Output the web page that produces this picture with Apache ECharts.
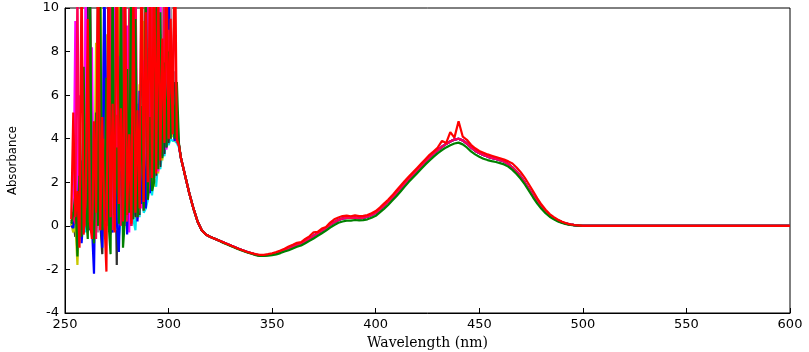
<!DOCTYPE html>
<html>
<head>
<meta charset="utf-8">
<script src="https://cdn.jsdelivr.net/npm/echarts@6/dist/echarts.min.js"></script>
<style>
html,body{margin:0;padding:0;background:#fff;}
#chart{width:809px;height:352px;}
</style>
</head>
<body>
<div id="chart"></div>
<script>
// 波长 x 轴: 噪声段 253-305 (1nm), 平滑段 306-500 (2nm), 然后平到 600
var wlNoise = [];
for (var w = 253; w <= 305; w++) { wlNoise.push(w); }
var wlTail = [];
for (var t = 306; t <= 500; t += 2) { wlTail.push(t); }
wlTail.push(600);

var xTicks = [250, 300, 350, 400, 450, 500, 550, 600];
var yTicks = [-4, -2, 0, 2, 4, 6, 8, 10];

// 噪声段 (每条 53 个点)
var noiseGray = [0.1, 0.0, 1.2, -0.2, 0.5, 2.0, 0.1, 11, -0.2, 0.3,
  4.5, 0.0, 1.8, -0.3, 5.2, 0.4, 12, 0.0, 4.6, 0.5,
  7.5, 0.0, 4.8, 0.3, 10.5, 0.2, 3.5, -0.2, 6.8, 0.4,
  13, 0.5, 3.4, 0.6, 6.6, 1.0, 4.4, 1.5, 12, 2.0,
  5.8, 2.6, 4.9, 3.0, 12, 3.5, 7.2, 3.8, 11, 4.1,
  7.1, 3.9, 3.7];
var noiseCyan = [0.0, -0.1, 0.2, 0.5, -0.2, 0.3, 0.6, -0.3, 0.8, 2.2,
  0.1, -0.6, 0.5, 0.0, 2.6, -0.5, 0.4, 1.5, 0.2, -0.1,
  0.6, 0.0, 1.8, -0.5, 0.4, 0.9, 0.0, 2.4, 0.1, 0.8,
  0.3, -0.2, 1.6, 0.4, 2.5, 0.6, 0.8, 1.2, 2.0, 1.4,
  2.2, 1.8, 3.0, 2.6, 3.4, 3.2, 4.2, 3.7, 4.0, 3.9,
  3.9, 3.8, 3.6];
var noiseBlack = [0.0, 0.2, -0.5, 0.8, 0.0, 3.0, -0.3, 0.5, 11, -0.2,
  0.3, 4.0, -0.1, 12, 0.2, -1.3, 4.8, 0.0, 10.5, -0.1,
  0.5, 5.0, -1.8, 13, 0.1, 0.6, 5.4, 0.2, 3.2, 0.0,
  4.1, 0.4, 5.6, 0.5, 12, 0.9, 4.6, 1.3, 11, 1.8,
  5.4, 2.3, 12, 2.7, 6.0, 3.3, 13, 3.8, 5.5, 4.1,
  6.6, 3.9, 3.7];
var noiseYellow = [0.1, -0.3, 0.2, -1.8, 1.0, -0.6, 0.4, 2.4, 0.0, 10,
  -0.2, 0.6, 8.4, 0.2, 13, -0.1, 0.4, 8.8, 0.0, 12,
  0.3, 8.0, -0.2, 12, 0.4, 3.9, 0.0, 7.4, 0.6, 5.2,
  0.8, 2.3, 0.5, 6.5, 1.0, 9.4, 1.2, 4.2, 1.6, 3.0,
  1.8, 7.8, 2.4, 4.5, 3.0, 8.6, 3.6, 5.1, 4.0, 4.3,
  3.9, 4.1, 3.7];
var noiseMagenta = [0.2, 0.3, 9.4, 0.0, 6.0, -0.4, 0.4, 11, -0.3, 0.9,
  8.2, -0.1, 0.6, 6.4, -0.2, 0.3, 10, 0.0, 5.4, -0.4,
  0.2, 12, -0.1, 7.8, 0.2, 4.6, 0.0, 9.2, -0.3, 5.0,
  0.4, 12, 0.3, 4.4, 0.8, 7.6, 1.0, 12, 1.6, 5.6,
  2.0, 9.0, 2.5, 11, 3.2, 6.8, 3.5, 12, 4.0, 6.6,
  3.9, 5.4, 3.7];
var noiseBlue = [0.0, -0.1, 0.8, 0.2, 2.6, -0.8, 0.5, 3.0, -0.2, 11,
  0.0, -2.2, 4.5, 0.3, 1.2, -1.0, 12, 0.2, 12, 0.0,
  -0.3, 5.3, 0.2, -1.2, 2.5, 0.1, 10, -0.4, 5.2, 0.3,
  0.5, 3.8, 0.2, 6.2, 1.0, 3.6, 0.8, 5.0, 1.5, 12,
  2.2, 4.5, 2.8, 6.0, 3.2, 5.3, 3.6, 11, 4.2, 4.8,
  3.9, 4.6, 3.7];
var noisePink = [0.2, 0.4, 0.1, 11, -0.2, 0.8, 5.0, 0.0, 0.6, 12,
  0.3, 2.0, -0.6, 11, 0.5, 0.2, 4.0, 0.9, 0.3, 12,
  -0.2, 1.1, 5.1, 0.4, 0.0, 13, 0.5, 0.2, 10, 0.0,
  0.8, 12, 0.4, 0.9, 5.0, 0.7, 13, 1.2, 2.4, 11,
  2.2, 10, 2.8, 8.8, 3.4, 12, 3.9, 9.0, 4.1, 7.4,
  10, 3.9, 3.7];
var noiseGreen = [0.1, 0.6, 1.4, -1.4, 2.3, -0.5, 7.3, 0.8, -0.6, 12,
  0.3, -0.8, 5.2, 0.0, 10.5, -0.2, 0.9, 6.8, 0.2, -1.3,
  12, 0.5, 3.6, 0.1, 11, -1.0, 0.4, 7.2, 0.6, 13,
  0.3, 9.5, 0.4, 1.2, 5.5, 0.7, 11, 1.2, 5.0, 1.6,
  2.0, 12, 2.6, 9.8, 3.1, 7.5, 3.6, 8.0, 4.0, 7.0,
  4.0, 6.6, 3.8];
var noiseRed = [0.3, 5.2, 0.4, 1.6, -1.0, 12, -0.4, 1.2, 9.5, 0.2,
  -0.6, 4.8, 0.6, 13, -0.2, 5.0, 0.3, -2.1, 11, 0.4,
  5.6, -0.3, 14, 1.0, 5.4, 0.2, 12, 0.5, 4.2, 0.1,
  11, 0.6, 5.3, 0.8, 14, 1.1, 9.8, 2.0, 12, 2.2,
  13, 2.4, 11, 3.0, 8.6, 3.8, 12, 4.0, 9.5, 4.2,
  14, 4.0, 3.7];

// 平滑段 (306-500 每 2nm, 最后一个是 600nm)
var tailBase = [3.1, 2.3, 1.5, 0.8, 0.2, -0.2, -0.4, -0.5, -0.58, -0.66,
  -0.74, -0.82, -0.9, -0.98, -1.06, -1.13, -1.2, -1.26, -1.32, -1.36,
  -1.35, -1.33, -1.3, -1.26, -1.2, -1.13, -1.05, -0.97, -0.88, -0.8,
  -0.7, -0.58, -0.46, -0.34, -0.22, -0.1, 0.05, 0.17, 0.27, 0.34,
  0.37, 0.36, 0.38, 0.35, 0.37, 0.42, 0.5, 0.6, 0.75, 0.92,
  1.1, 1.3, 1.5, 1.72, 1.94, 2.15, 2.35, 2.55, 2.75, 2.95,
  3.14, 3.32, 3.48, 3.63, 3.76, 3.87, 3.96, 4.0, 3.92, 3.78,
  3.6, 3.45, 3.34, 3.25, 3.18, 3.12, 3.07, 3.02, 2.95, 2.84,
  2.68, 2.48, 2.26, 1.98, 1.68, 1.38, 1.1, 0.85, 0.64, 0.47,
  0.34, 0.24, 0.16, 0.1, 0.06, 0.03, 0.01, 0, 0];
var tailGreen = [3.1, 2.3, 1.5, 0.8, 0.2, -0.2, -0.4, -0.5, -0.58, -0.66,
  -0.76, -0.84, -0.92, -1.0, -1.08, -1.15, -1.22, -1.28, -1.34, -1.38,
  -1.38, -1.37, -1.34, -1.31, -1.25, -1.18, -1.12, -1.04, -0.96, -0.9,
  -0.8, -0.69, -0.58, -0.46, -0.34, -0.22, -0.08, 0.04, 0.14, 0.2,
  0.24, 0.24, 0.27, 0.25, 0.26, 0.3, 0.37, 0.46, 0.62, 0.78,
  0.96, 1.16, 1.36, 1.58, 1.8, 2.02, 2.22, 2.42, 2.62, 2.82,
  3.0, 3.18, 3.34, 3.48, 3.6, 3.7, 3.78, 3.82, 3.74, 3.6,
  3.42, 3.28, 3.17, 3.08, 3.02, 2.97, 2.93, 2.88, 2.82, 2.72,
  2.57, 2.38, 2.16, 1.9, 1.6, 1.3, 1.02, 0.78, 0.58, 0.42,
  0.3, 0.2, 0.13, 0.08, 0.04, 0.02, 0.01, 0, 0];
var tailRed = [3.1, 2.3, 1.5, 0.8, 0.2, -0.2, -0.4, -0.5, -0.58, -0.66,
  -0.74, -0.82, -0.9, -0.98, -1.06, -1.13, -1.2, -1.25, -1.3, -1.33,
  -1.33, -1.3, -1.26, -1.2, -1.13, -1.05, -0.95, -0.87, -0.78, -0.75,
  -0.6, -0.48, -0.3, -0.28, -0.12, -0.05, 0.15, 0.3, 0.38, 0.45,
  0.47, 0.44, 0.48, 0.45, 0.46, 0.5, 0.58, 0.68, 0.84, 1.02,
  1.2, 1.4, 1.62, 1.84, 2.06, 2.26, 2.46, 2.66, 2.86, 3.06,
  3.26, 3.42, 3.6, 3.9, 3.8, 4.3, 4.05, 4.8, 4.1, 3.95,
  3.72, 3.56, 3.44, 3.36, 3.28, 3.22, 3.16, 3.1, 3.04, 2.96,
  2.86, 2.68, 2.46, 2.2, 1.9, 1.58, 1.26, 0.98, 0.74, 0.54,
  0.4, 0.28, 0.19, 0.12, 0.07, 0.04, 0.02, 0, 0];

//拼 [x,y]
function pairs(noise, tail){
	var out = [];
	for (var i = 0; i < wlNoise.length; i++) out.push([wlNoise[i], noise[i]]);
	for (var j = 0; j < wlTail.length; j++) out.push([wlTail[j], tail[j]]);
	return out;
}

var lines = [
	{name:'gray', color:'#9a9a9a', noise:noiseGray, tail:tailBase},
	{name:'cyan', color:'#00e5ee', noise:noiseCyan, tail:tailBase},
	{name:'black', color:'#303030', noise:noiseBlack, tail:tailBase},
	{name:'yellow', color:'#c8c800', noise:noiseYellow, tail:tailBase},
	{name:'magenta', color:'#ff00ff', noise:noiseMagenta, tail:tailBase},
	{name:'blue', color:'#0000ff', noise:noiseBlue, tail:tailBase},
	{name:'pink', color:'#ff0055', noise:noisePink, tail:tailBase},
	{name:'green', color:'#008000', noise:noiseGreen, tail:tailGreen},
	{name:'red', color:'#ff0000', noise:noiseRed, tail:tailRed}
];

var chart = echarts.init(document.getElementById('chart'));
var option = {
	animation:false,
	backgroundColor:'#fff',
	grid:{
		left:65, right:19, top:8, bottom:39,
		outerBoundsMode:'none',
		containLabel:false,
		show:true, borderColor:'#000', borderWidth:1
	},
	xAxis:{
		type:'value',
		min:xTicks[0], max:xTicks[xTicks.length-1], interval:50,
		name:'Wavelength (nm)',
		nameLocation:'middle',
		nameGap:20,
		nameTextStyle:{color:'#000', fontFamily:'DejaVu Serif', fontSize:14},
		axisLine:{onZero:false, lineStyle:{color:'#000', width:1}},
		axisTick:{inside:true, length:5, lineStyle:{color:'#000'}},
		axisLabel:{color:'#000', fontFamily:'DejaVu Sans', fontSize:13, margin:5},
		splitLine:{show:false}
	},
	yAxis:{
		type:'value',
		min:yTicks[0], max:yTicks[yTicks.length-1], interval:2,
		name:'Absorbance',
		nameLocation:'middle',
		nameGap:46,
		nameTextStyle:{color:'#000', fontFamily:'DejaVu Sans Condensed', fontSize:13},
		axisLine:{lineStyle:{color:'#000', width:1}},
		axisTick:{inside:true, length:5, lineStyle:{color:'#000'}},
		axisLabel:{color:'#000', fontFamily:'DejaVu Sans', fontSize:13, margin:6},
		splitLine:{show:false}
	},
	series:lines.map(function(l){
		return {
			name:l.name,
			type:'line',
			data:pairs(l.noise, l.tail),
			showSymbol:false,
			clip:true,
			lineStyle:{color:l.color, width:2.2},
			itemStyle:{color:l.color}
		};
	})
};
chart.setOption(option);
</script>
</body>
</html>
